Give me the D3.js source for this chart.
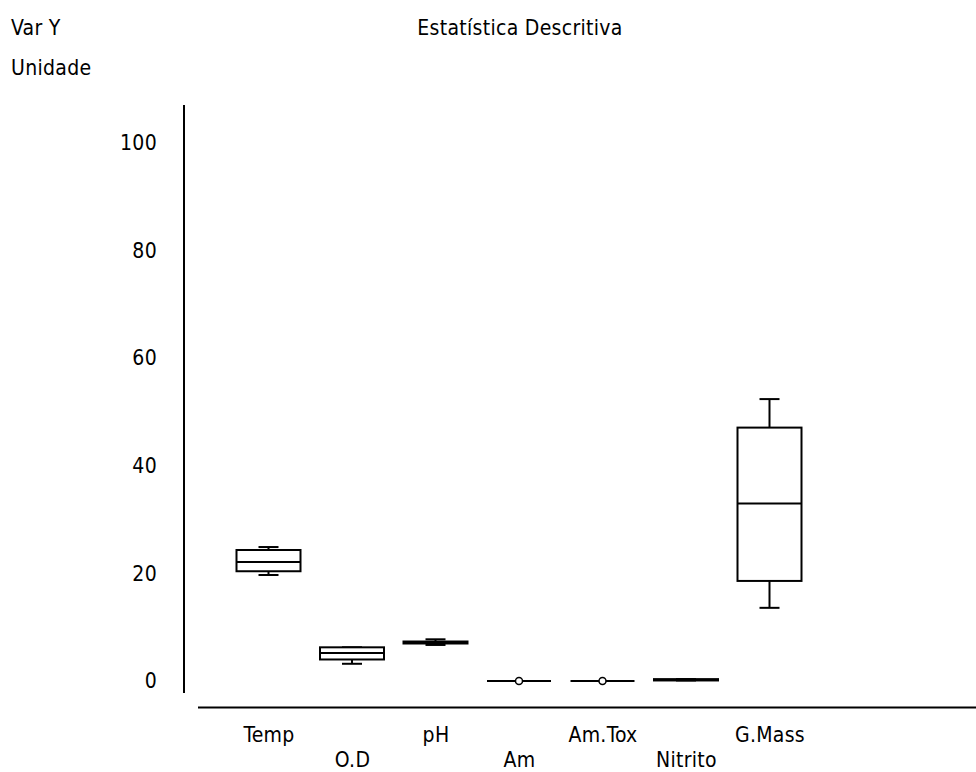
<!DOCTYPE html>
<html>
<head>
<meta charset="utf-8">
<script src="https://cdn.jsdelivr.net/npm/d3@7"></script>
<style>
body { margin: 0; background: #fff; }
svg text {
    font-family: "DejaVu Sans Condensed", "DejaVu Sans", sans-serif;
    font-stretch: condensed;
    font-size: 21px;
    letter-spacing: 0.3px;
    fill: #000;
}
</style>
</head>
<body>
<div id="grafico"></div>
<script>
// dados
const categorias = ["Temp", "O.D", "pH", "Am", "Am.Tox", "Nitrito", "G.Mass"];
const minimo   = [19.7, 3.2, 6.7, 0, 0, 0.1, 13.6];
const quartil1 = [20.4, 4.0, 6.97, 0, 0, 0.1, 18.6];
const mediana  = [22.1, 5.2, 7.15, 0, 0, 0.2, 33.0];
const quartil3 = [24.35, 6.26, 7.34, 0, 0, 0.35, 47.1];
const maximo   = [24.9, 6.26, 7.75, 0, 0, 0.35, 52.4];
const pontos   = [null, null, null, 0, 0, null, null];
const ticksY   = [0, 20, 40, 60, 80, 100];

const titulo = "Estatística Descritiva";
const rotuloY = "Var Y";
const unidade = "Unidade";

var width = 976, height = 772;
var larguraCaixa = 64, larguraCap = 20;

var svg = d3.select("#grafico")
    .append("svg")
    .attr("width", width)
    .attr("height", height);

var y = d3.scaleLinear()
    .domain([0, 100])
    .range([681, 143]);

var x = d3.scalePoint()
    .domain(categorias)
    .range([268.5, 769.5]);

// textos do topo
svg.append("text").attr("x", 11).attr("y", 35).text(rotuloY);
svg.append("text").attr("x", 11).attr("y", 75).text(unidade);
svg.append("text")
    .attr("x", 520)
    .attr("y", 35)
    .attr("text-anchor", "middle")
    .text(titulo);

// eixo Y
svg.append("line")
    .attr("x1", 184).attr("x2", 184)
    .attr("y1", 105).attr("y2", 693)
    .attr("stroke", "#000").attr("stroke-width", 2);

var eixoY = svg.append("g")
    .attr("transform", "translate(184,0)")
    .call(d3.axisLeft(y).tickValues(ticksY).tickSize(0).tickPadding(27));
eixoY.select(".domain").remove();

// eixo X
svg.append("line")
    .attr("x1", 198).attr("x2", 976)
    .attr("y1", 707.5).attr("y2", 707.5)
    .attr("stroke", "#000").attr("stroke-width", 2);

var eixoX = svg.append("g")
    .attr("transform", "translate(0,707)")
    .call(d3.axisBottom(x).tickSize(0));
eixoX.select(".domain").remove();
eixoX.selectAll("text")
    .attr("dy", null)
    .attr("y", (d, i) => i % 2 ? 60 : 34.5);

// caixas
var dados = categorias.map((c, i) => ({
    cat: c, min: minimo[i], q1: quartil1[i], med: mediana[i],
    q3: quartil3[i], max: maximo[i], ponto: pontos[i]
}));

var caixas = svg.selectAll(".caixa")
    .data(dados)
    .enter()
    .append("g")
    .attr("class", "caixa")
    .attr("transform", d => "translate(" + x(d.cat) + ",0)")
    .attr("stroke", "#000")
    .attr("stroke-width", 2)
    .attr("fill", "none");

// bigodes
caixas.append("line")
    .attr("x1", 0).attr("x2", 0)
    .attr("y1", d => y(d.max))
    .attr("y2", d => y(d.min));

caixas.append("line")
    .attr("x1", -larguraCap / 2).attr("x2", larguraCap / 2)
    .attr("y1", d => y(d.max)).attr("y2", d => y(d.max));

caixas.append("line")
    .attr("x1", -larguraCap / 2).attr("x2", larguraCap / 2)
    .attr("y1", d => y(d.min)).attr("y2", d => y(d.min));

caixas.append("rect")
    .attr("x", -larguraCaixa / 2)
    .attr("width", larguraCaixa)
    .attr("y", d => y(d.q3))
    .attr("height", d => y(d.q1) - y(d.q3))
    .attr("fill", "#fff");

caixas.append("line")
    .attr("x1", -larguraCaixa / 2).attr("x2", larguraCaixa / 2)
    .attr("y1", d => y(d.med)).attr("y2", d => y(d.med));

// marcadores circulares
caixas.filter(d => d.ponto !== null)
    .append("circle")
    .attr("cx", 0)
    .attr("cy", d => y(d.ponto))
    .attr("r", 3.5)
    .attr("stroke-width", 1.5)
    .attr("fill", "#fff");
</script>
</body>
</html>
